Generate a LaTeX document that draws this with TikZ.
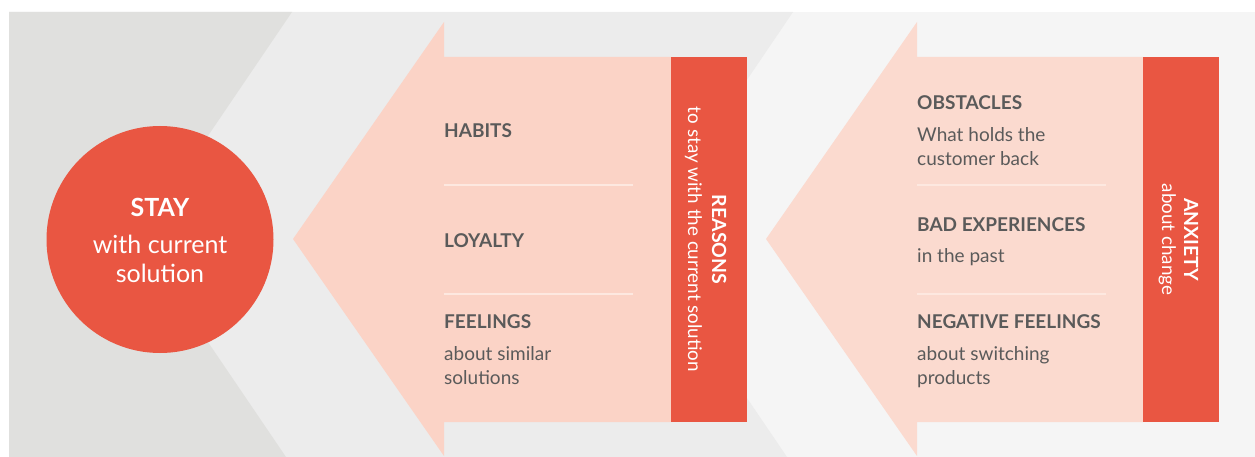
\documentclass[tikz,border=0pt]{standalone}
\usepackage{fontspec}
\setmainfont{Lato}
\definecolor{bgdark}{HTML}{E0E0DE}
\definecolor{bgmid}{HTML}{ECECEC}
\definecolor{bglight}{HTML}{F5F5F5}
\definecolor{accent}{HTML}{E95642}
\definecolor{pinkA}{HTML}{FBD3C6}
\definecolor{pinkB}{HTML}{FBDACF}
\definecolor{sepline}{HTML}{FDE8E0}
\definecolor{txtgray}{HTML}{5A5A5A}
\tikzset{
  head/.style={font=\fontsize{19}{23}\selectfont\bfseries, text=txtgray, anchor=base west, inner sep=0pt},
  body/.style={font=\fontsize{19}{23}\selectfont, text=txtgray, anchor=base west, inner sep=0pt},
  barhead/.style={font=\fontsize{19.5}{24}\selectfont\bfseries, text=white, anchor=base, inner sep=0pt, rotate=-90},
  barbody/.style={font=\fontsize{18.8}{24}\selectfont, text=white, anchor=base, inner sep=0pt, rotate=-90},
  sep/.style={draw=sepline, line width=1.5pt},
  circtext/.style={text=white, anchor=base, inner sep=0pt}
}
\begin{document}
\begin{tikzpicture}[x=1pt,y=-1pt]
\useasboundingbox (0,0) rectangle (1255,457);
% background bands
\fill[bglight] (9,12) rectangle (1255,457);
\fill[bgmid] (9,12) -- (793,12) -- (639,239) -- (787,457) -- (9,457) -- cycle;
\fill[bgdark] (9,12) -- (292,12) -- (138,239) -- (286,457) -- (9,457) -- cycle;
% arrow 1
\fill[pinkA] (444,22) -- (444,57) -- (671,57) -- (671,422) -- (444,422) -- (444,456) -- (293,239) -- cycle;
\fill[accent] (671,57) rectangle (747,422);
% arrow 2
\fill[pinkB] (917,22) -- (917,57) -- (1143,57) -- (1143,422) -- (917,422) -- (917,456) -- (766,239) -- cycle;
\fill[accent] (1143,57) rectangle (1219,422);
% separators
\draw[sep] (444,185) -- (633,185);
\draw[sep] (444,294) -- (633,294);
\draw[sep] (917,185) -- (1106,185);
\draw[sep] (917,294) -- (1106,294);
% circle
\node[circle, fill=accent, minimum size=227pt, inner sep=0pt] (stay) at (160,239.5) {};
\node[circtext, font=\fontsize{25}{30}\selectfont\bfseries] (stayh) at (160,217) {STAY};
\node[circtext, font=\fontsize{25}{30}\selectfont] (stayb1) at (160,253) {with current};
\node[circtext, font=\fontsize{25}{30}\selectfont] (stayb2) at (160,282) {solution};
% arrow 1 texts
\node[head] (habits) at (444,138) {HABITS};
\node[head] (loyalty) at (444,247) {LOYALTY};
\node[head] (feelings) at (444,328) {FEELINGS};
\node[body] (feel1) at (444,360) {about similar};
\node[body] (feel2) at (444,384) {solutions};
\node[barhead] (reasons) at (712,239.5) {REASONS};
\node[barbody] (reasonsb) at (688,239.5) {to stay with the current solution};
% arrow 2 texts
\node[head] (obst) at (917,110) {OBSTACLES};
\node[body] (obst1) at (917,142) {What holds the};
\node[body] (obst2) at (917,166) {customer back};
\node[head] (bad) at (917,231) {BAD EXPERIENCES};
\node[body] (bad1) at (917,262) {in the past};
\node[head] (neg) at (917,328) {NEGATIVE FEELINGS};
\node[body] (neg1) at (917,360) {about switching};
\node[body] (neg2) at (917,384) {products};
\node[barhead] (anx) at (1184,239.5) {ANXIETY};
\node[barbody] (anxb) at (1162,239.5) {about change};
\end{tikzpicture}
\end{document}
